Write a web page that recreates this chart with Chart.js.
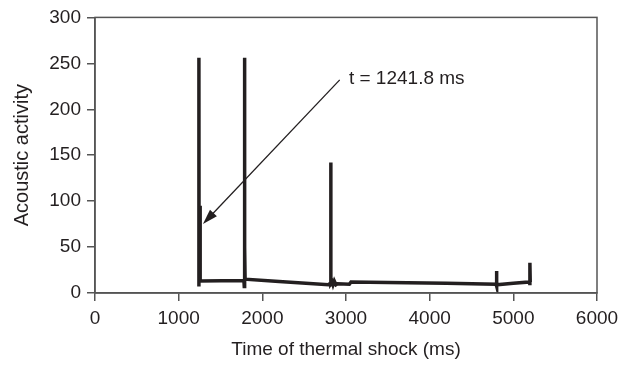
<!DOCTYPE html>
<html>
<head>
<meta charset="utf-8">
<script src="https://cdn.jsdelivr.net/npm/chart.js@4/dist/chart.umd.min.js"></script>
<style>
  html, body { margin: 0; padding: 0; background: #fff; }
  #wrap { width: 625px; height: 365px; }
</style>
</head>
<body>
<div id="wrap"><canvas id="shockChart" width="625" height="365"></canvas></div>
<script>
'use strict';

// Acoustic emission trace (time in ms, activity in counts)
const times = [1242, 1242, 1244, 1256, 1256, 1258, 1780, 1784, 1784, 1786, 1792, 1792, 1794,
    2200, 2790, 2805, 2818, 2818, 2820, 2835, 2845, 2860, 2880, 2900, 3040, 3060,
    3500, 4200, 4795, 4800, 4800, 4802, 5000, 5195, 5198, 5198, 5202];
const activity = [7, 256, 13, 13, 95, 13, 13.5, 7, 256, 14, 14, 50, 15,
    12.5, 9, 10, 9, 142, 10, 12, 9, 13, 9, 10, 9.5, 12,
    11.5, 10.5, 9.5, 7.5, 24, 9, 10.5, 12, 8.5, 33, 12];

const xTicks = [0, 1000, 2000, 3000, 4000, 5000, 6000];
const yTicks = [0, 50, 100, 150, 200, 250, 300];

const annotationText = 't = 1241.8 ms';

const ink = '#231f20';
const axisGrey = '#555555';
const family = 'Liberation Sans, Arial, sans-serif';
const font = { family: family, size: 19 };

// Full frame around the plot area
const framePlugin = {
    id: 'frame',
    afterDraw(chart) {
        const { ctx, chartArea: a } = chart;
        ctx.save();
        ctx.strokeStyle = axisGrey;
        ctx.lineWidth = 1.5;
        ctx.strokeRect(a.left, a.top, a.right - a.left, a.bottom - a.top);
        ctx.restore();
    }
};

// Arrow + label pointing at the 1241.8 ms event
const arrowPlugin = {
    id: 'arrowNote',
    afterDatasetsDraw(chart) {
        const { ctx, scales: { x, y } } = chart;
        const x0 = x.getPixelForValue(2925), y0 = y.getPixelForValue(232);
        const x1 = x.getPixelForValue(1290), y1 = y.getPixelForValue(75);
        const ang = Math.atan2(y1 - y0, x1 - x0);
        const head = 16, half = 0.3;
        ctx.save();
        ctx.strokeStyle = ink;
        ctx.fillStyle = ink;
        ctx.lineWidth = 1.3;
        ctx.beginPath();
        ctx.moveTo(x0, y0);
        ctx.lineTo(x1 - Math.cos(ang) * head * 0.8, y1 - Math.sin(ang) * head * 0.8);
        ctx.stroke();
        ctx.beginPath();
        ctx.moveTo(x1, y1);
        ctx.lineTo(x1 - head * Math.cos(ang - half), y1 - head * Math.sin(ang - half));
        ctx.lineTo(x1 - head * Math.cos(ang + half), y1 - head * Math.sin(ang + half));
        ctx.closePath();
        ctx.fill();
        ctx.font = '19px ' + family;
        ctx.textBaseline = 'middle';
        ctx.textAlign = 'left';
        ctx.fillText(annotationText, x.getPixelForValue(3035), y.getPixelForValue(233));
        ctx.restore();
    }
};

const ctx = document.getElementById('shockChart').getContext('2d');
const shockChart = new Chart(ctx, {
    type: 'line',
    data: {
        datasets: [{
            data: times.map((t, i) => ({ x: t, y: activity[i] })),
            borderColor: ink,
            borderWidth: 3.5,
            pointRadius: 0,
            tension: 0,
            fill: false
        }]
    },
    options: {
        responsive: false,
        animation: false,
        layout: { padding: { top: 16, right: 28, left: 6, bottom: 0 } },
        plugins: { legend: { display: false }, tooltip: { enabled: false } },
        scales: {
            x: {
                type: 'linear',
                min: 0,
                max: 6000,
                afterBuildTicks: s => { s.ticks = xTicks.map(v => ({ value: v })); },
                afterFit: s => { s.height = 72; },
                ticks: { color: ink, font: font, padding: 6, maxRotation: 0, callback: v => String(v) },
                grid: { drawOnChartArea: false, drawTicks: true, tickLength: 8, color: axisGrey, lineWidth: 1.5 },
                border: { color: axisGrey, width: 1.5 },
                title: { display: true, text: 'Time of thermal shock (ms)', color: ink, font: font, padding: { top: 0 } }
            },
            y: {
                min: 0,
                max: 300,
                afterBuildTicks: s => { s.ticks = yTicks.map(v => ({ value: v })); },
                afterFit: s => { s.width = 89; },
                ticks: { color: ink, font: font, padding: 6, callback: v => String(v) },
                grid: { drawOnChartArea: false, drawTicks: true, tickLength: 8, color: axisGrey, lineWidth: 1.5 },
                border: { color: axisGrey, width: 1.5 },
                title: { display: true, text: 'Acoustic activity', color: ink, font: { family: family, size: 20 }, padding: { bottom: 0 } }
            }
        }
    },
    plugins: [framePlugin, arrowPlugin]
});
</script>
</body>
</html>
